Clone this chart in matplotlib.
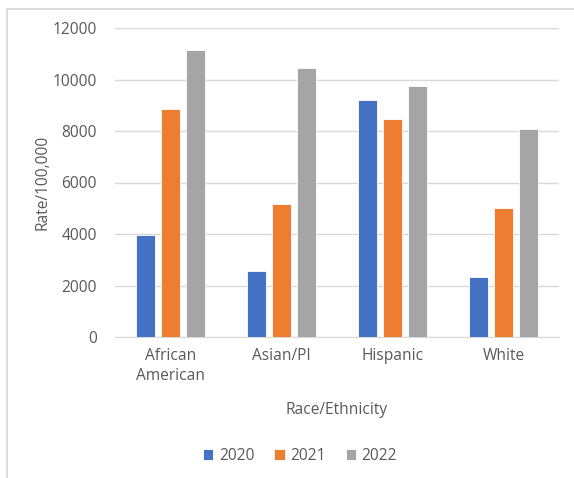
import matplotlib
matplotlib.use("Agg")
import matplotlib.pyplot as plt
import numpy as np
from matplotlib.lines import Line2D

categories = ["African\nAmerican", "Asian/PI", "Hispanic", "White"]
years = ["2020", "2021", "2022"]
v2020 = [3950, 2550, 9190, 2340]
v2021 = [8870, 5170, 8450, 5020]
v2022 = [11150, 10450, 9750, 8070]
colors = ["#4472C4", "#ED7D31", "#A5A5A5"]
yticks = [0, 2000, 4000, 6000, 8000, 10000, 12000]

plt.rcParams['font.family'] = ['Open Sans', 'DejaVu Sans']
W, H = 574, 478
FS = 11.2
fig = plt.figure(figsize=(W/100, H/100), dpi=100)
bx, by = 6.5/W, 1 - 9/H
fig.lines.append(Line2D([bx, bx], [0, by], transform=fig.transFigure, color="#D9D9D9", linewidth=1.3))
fig.lines.append(Line2D([bx, 1], [by, by], transform=fig.transFigure, color="#D9D9D9", linewidth=1.3))
ax = fig.add_axes([115/W, 1-337/H, (559-115)/W, (337-28)/H])
x = np.arange(len(categories))
w = 0.17
off = 0.225
for i, (vals, c, lab) in enumerate(zip([v2020, v2021, v2022], colors, years)):
    ax.bar(x + (i-1)*off, vals, width=w, color=c, label=lab, edgecolor="white", linewidth=0.6, zorder=3)
ax.set_xlim(-0.5, 3.5)
ax.set_ylim(0, 12000)
ax.set_yticks(yticks)
ax.set_yticklabels([str(t) for t in yticks])
ax.set_xticks(x)
ax.set_xticklabels(categories, linespacing=1.3)
ax.grid(axis='y', color="#D9D9D9", linewidth=1, zorder=0)
for s in ["top", "right", "left"]:
    ax.spines[s].set_visible(False)
ax.spines["bottom"].set_color("#D9D9D9")
ax.tick_params(axis='both', length=0, colors="#595959", labelsize=FS)
ax.tick_params(axis='x', pad=8)
ax.tick_params(axis='y', pad=13)
ax.set_ylabel("Rate/100,000", color="#595959", fontsize=FS)
ax.yaxis.set_label_coords((50 - 115) / (559 - 115), 0.5)
ax.set_xlabel("Race/Ethnicity", color="#595959", fontsize=FS, labelpad=13)
leg = fig.legend(loc="center", bbox_to_anchor=(300/W, 1-456/H), ncol=3, frameon=False,
                 fontsize=FS, handlelength=0.65, handleheight=0.65, handletextpad=0.35,
                 columnspacing=1.3, labelcolor="#595959")
fig.savefig("out.png", dpi=100)
